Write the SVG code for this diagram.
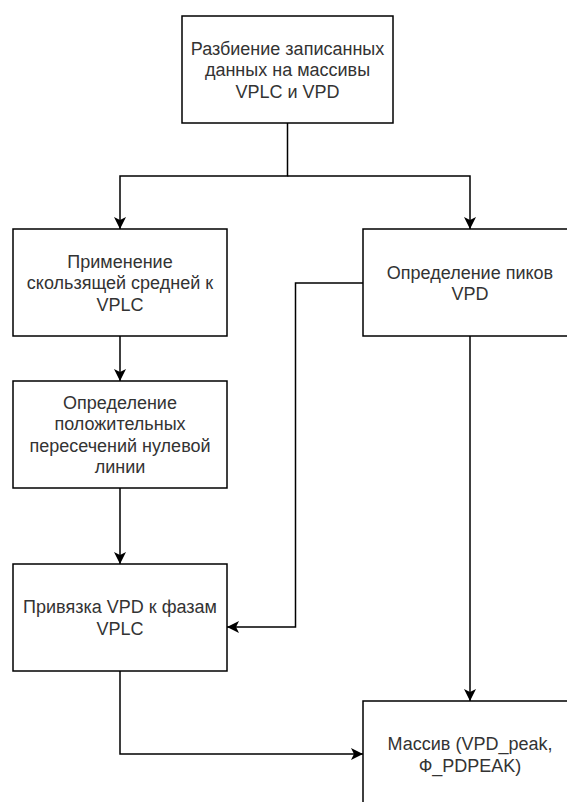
<svg xmlns="http://www.w3.org/2000/svg" width="567" height="802" viewBox="0 0 567 802">
<style>
.box{fill:#fff;stroke:#000;stroke-width:1.5}
.lbl{font-family:"Liberation Sans",Arial,sans-serif;font-size:18px;fill:#333;text-anchor:middle}
.edge{fill:none;stroke:#000;stroke-width:1.5;marker-end:url(#arr)}
</style>
<defs>
<marker id="arr" markerUnits="userSpaceOnUse" markerWidth="12" markerHeight="12" viewBox="0 0 10.5 10.5" refX="10.5" refY="5.25" orient="auto">
<path d="M0,0 L10.5,5.25 L0,10.5 L2.6,5.25 Z" fill="#000"/>
</marker>
</defs>
<rect width="567" height="802" fill="#fff"/>
<g id="connectors">
<path class="edge" d="M287.5,123 V176 H120 V229"/>
<path class="edge" d="M287.5,176 H470 V229"/>
<path class="edge" d="M120,336 V381"/>
<path class="edge" d="M120,488 V564"/>
<path class="edge" d="M363,283 H295.5 V627 H227"/>
<path class="edge" d="M470,336 V701"/>
<path class="edge" d="M120,671 V754 H363"/>
</g>
<g id="split">
<rect class="box" x="182" y="16" width="211" height="107"/>
<text class="lbl" x="287.5" y="54.5">Разбиение записанных</text>
<text class="lbl" x="287.5" y="76">данных на массивы</text>
<text class="lbl" x="287.5" y="97.5">VPLC и VPD</text>
</g>
<g id="moving-average">
<rect class="box" x="13" y="229" width="214" height="107"/>
<text class="lbl" x="120" y="267.5">Применение</text>
<text class="lbl" x="120" y="289">скользящей средней к</text>
<text class="lbl" x="120" y="310.5">VPLC</text>
</g>
<g id="peaks">
<rect class="box" x="363" y="229" width="214" height="107"/>
<text class="lbl" x="470" y="278.5">Определение пиков</text>
<text class="lbl" x="470" y="300">VPD</text>
</g>
<g id="zero-cross">
<rect class="box" x="13" y="381" width="214" height="107"/>
<text class="lbl" x="120" y="408.5">Определение</text>
<text class="lbl" x="120" y="430">положительных</text>
<text class="lbl" x="120" y="451.5">пересечений нулевой</text>
<text class="lbl" x="120" y="473">линии</text>
</g>
<g id="bind">
<rect class="box" x="13" y="564" width="214" height="107"/>
<text class="lbl" x="120" y="613">Привязка VPD к фазам</text>
<text class="lbl" x="120" y="634.5">VPLC</text>
</g>
<g id="array">
<rect class="box" x="363" y="701" width="214" height="107"/>
<text class="lbl" x="470" y="750">Массив (VPD_peak,</text>
<text class="lbl" x="470" y="771.5">Ф_PDPEAK)</text>
</g>
</svg>
